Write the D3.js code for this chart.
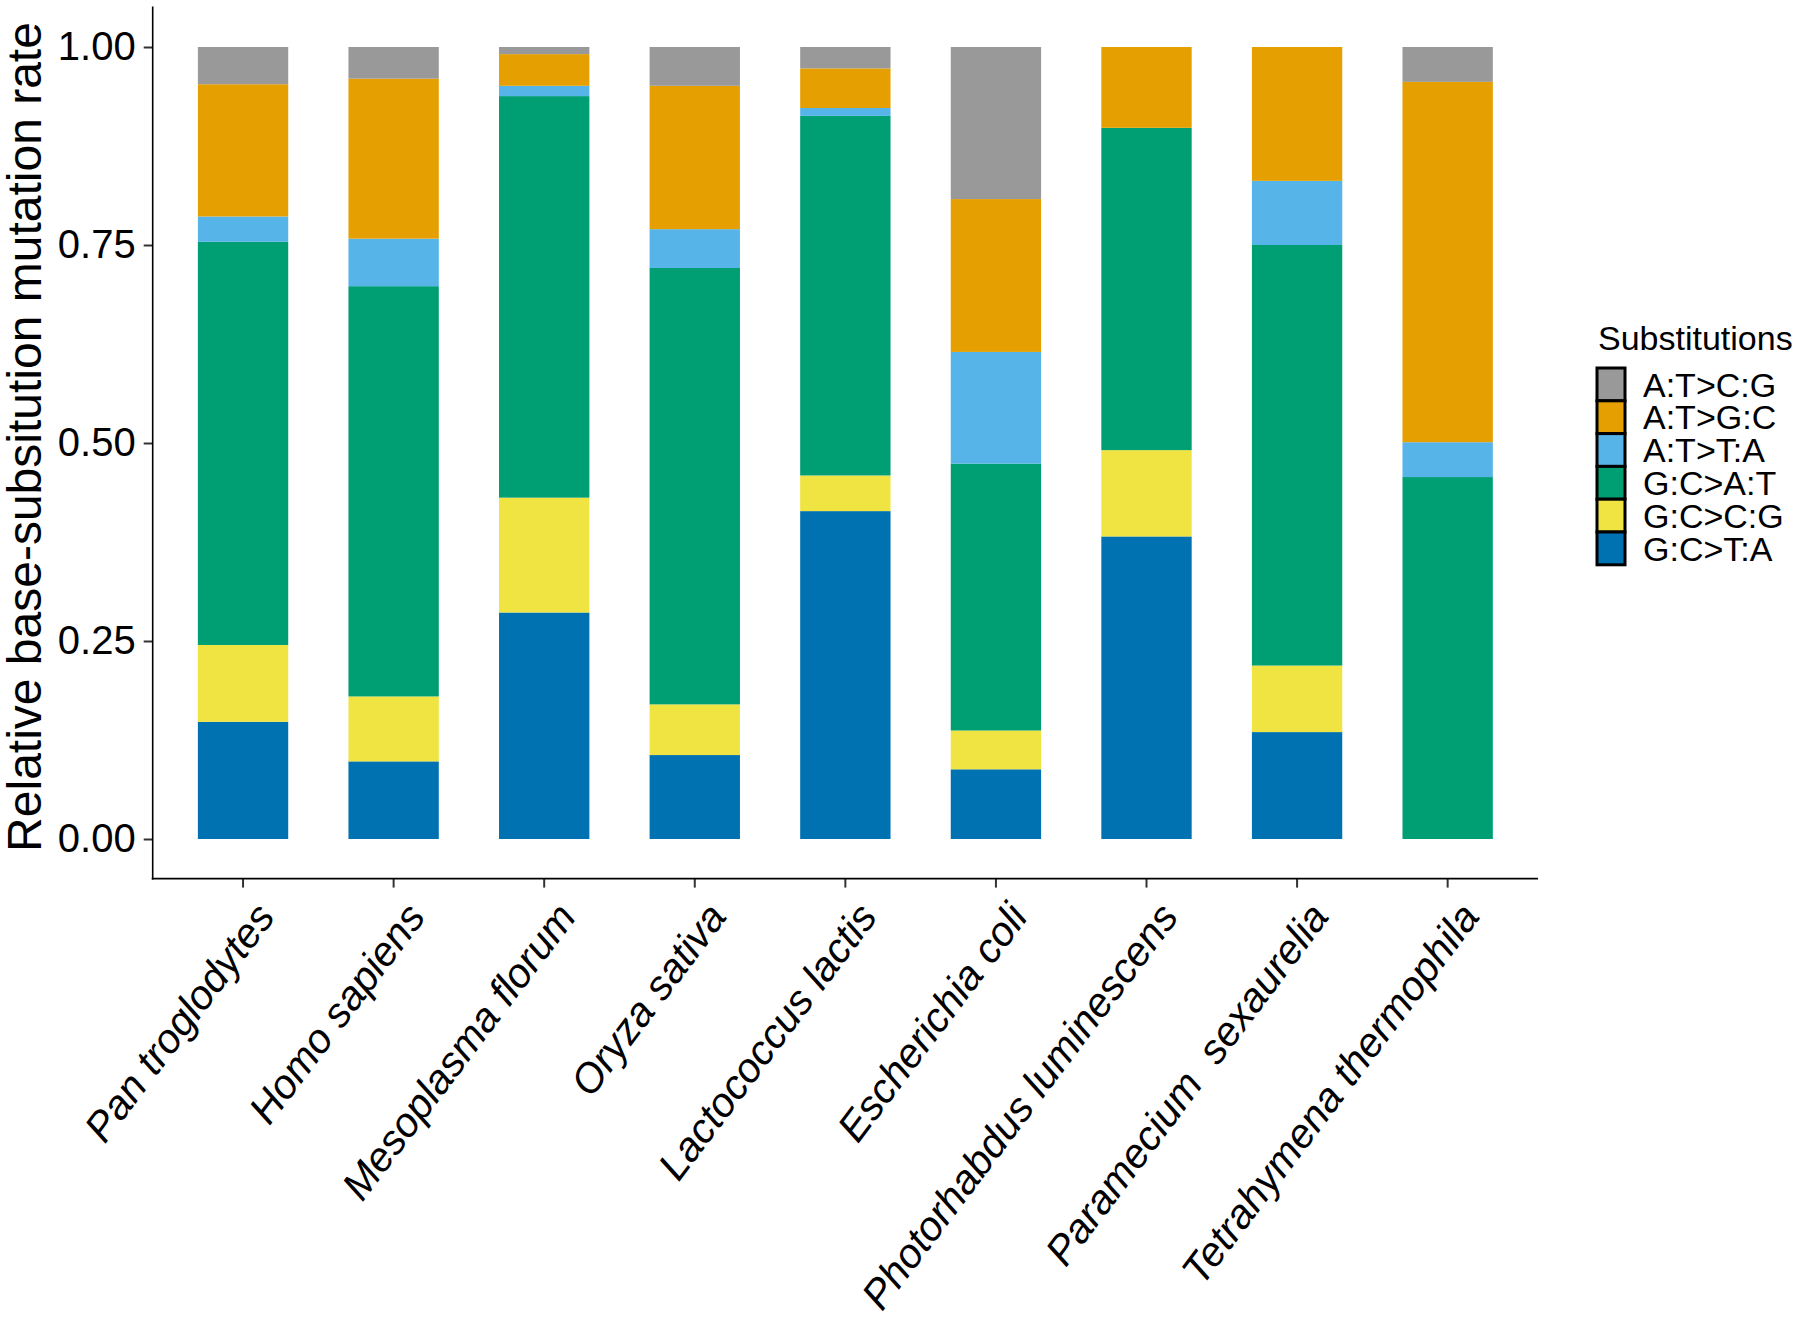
<!DOCTYPE html>
<html>
<head>
<meta charset="utf-8">
<script src="https://cdn.jsdelivr.net/npm/d3@7"></script>
<style>
  html, body { margin: 0; padding: 0; background: #fff; }
  svg { display: block; font-family: "Liberation Sans", Arial, sans-serif; }
</style>
</head>
<body>
<svg id="chart" width="1800" height="1324"></svg>
<script>
const species = ["Pan troglodytes", "Homo sapiens", "Mesoplasma florum", "Oryza sativa",
  "Lactococcus lactis", "Escherichia coli", "Photorhabdus luminescens",
  "Paramecium  sexaurelia", "Tetrahymena thermophila"];

// Substitution classes, stacking order bottom -> top
const substitutions = ["G:C>T:A", "G:C>C:G", "G:C>A:T", "A:T>T:A", "A:T>G:C", "A:T>C:G"];
const colors = ["#0072B2", "#F0E442", "#009E73", "#56B4E9", "#E69F00", "#999999"];

const GC_TA = [0.148, 0.098, 0.286, 0.106, 0.414, 0.088, 0.382, 0.135, 0.000];
const GC_CG = [0.097, 0.082, 0.145, 0.064, 0.045, 0.049, 0.109, 0.084, 0.000];
const GC_AT = [0.509, 0.518, 0.507, 0.551, 0.454, 0.337, 0.407, 0.531, 0.457];
const AT_TA = [0.032, 0.060, 0.013, 0.049, 0.010, 0.141, 0.000, 0.081, 0.044];
const AT_GC = [0.167, 0.202, 0.040, 0.181, 0.050, 0.193, 0.102, 0.169, 0.455];
const AT_CG = [0.047, 0.040, 0.009, 0.049, 0.027, 0.192, 0.000, 0.000, 0.044];

const yTicks = [0, 0.25, 0.5, 0.75, 1.0];
const yTickLabels = ["0.00", "0.25", "0.50", "0.75", "1.00"];
const yTitle = "Relative base-subsitution mutation rate";
const legendTitle = "Substitutions";

const seriesValues = [GC_TA, GC_CG, GC_AT, AT_TA, AT_GC, AT_CG];
const table = species.map((s, i) => {
  const row = { species: s };
  substitutions.forEach((k, j) => { row[k] = seriesValues[j][i]; });
  return row;
});

const svg = d3.select("#chart");
const panel = { left: 152.7, right: 1538, top: 7.4, bottom: 878.6 };

const x = d3.scaleBand().domain(species).range([panel.left, panel.right])
  .paddingInner(0.4).paddingOuter(0.3);
const y = d3.scaleLinear().domain([-0.05, 1.05]).range([panel.bottom, panel.top]);
const color = d3.scaleOrdinal().domain(substitutions).range(colors);

const stack = d3.stack().keys(substitutions);
const layers = stack(table);

svg.append("g").selectAll("g").data(layers).join("g")
  .attr("fill", d => color(d.key))
  .selectAll("rect").data(d => d).join("rect")
  .attr("x", d => x(d.data.species))
  .attr("width", x.bandwidth())
  .attr("y", d => y(d[1]))
  .attr("height", d => Math.max(0, y(d[0]) - y(d[1])));

// Y axis
const yAxis = d3.axisLeft(y).tickValues(yTicks)
  .tickFormat((d, i) => yTickLabels[i]).tickSize(9).tickPadding(8);
const gy = svg.append("g").attr("transform", `translate(${panel.left},0)`).call(yAxis);
gy.select(".domain").remove();
gy.selectAll(".tick line").attr("stroke", "#333").attr("stroke-width", 2);
gy.selectAll(".tick text").attr("font-size", 40).attr("fill", "#000")
  .attr("font-family", "Liberation Sans, Arial, sans-serif");

// X axis
const xAxis = d3.axisBottom(x).tickSize(9).tickFormat("");
const gx = svg.append("g").attr("transform", `translate(0,${panel.bottom})`).call(xAxis);
gx.select(".domain").remove();
gx.selectAll(".tick line").attr("stroke", "#333").attr("stroke-width", 2);

// Axis lines
svg.append("line").attr("x1", panel.left).attr("x2", panel.left)
  .attr("y1", panel.top - 1).attr("y2", panel.bottom + 1)
  .attr("stroke", "#000").attr("stroke-width", 1.6);
svg.append("line").attr("x1", panel.left - 1).attr("x2", panel.right)
  .attr("y1", panel.bottom).attr("y2", panel.bottom)
  .attr("stroke", "#000").attr("stroke-width", 1.6);

// X labels rotated
svg.append("g").selectAll("text").data(species).join("text")
  .attr("transform", d => `translate(${x(d) + x.bandwidth() / 2 + 10},${panel.bottom + 21}) rotate(-53)`)
  .attr("text-anchor", "end")
  .attr("dy", "0.71em")
  .attr("font-size", 41)
  .attr("font-style", "italic")
  .attr("fill", "#000")
  .style("white-space", "pre")
  .text(d => d);

// Y title
svg.append("text")
  .attr("transform", `translate(41,437) rotate(-90)`)
  .attr("text-anchor", "middle")
  .attr("font-size", 48)
  .attr("fill", "#000")
  .text(yTitle);

// Legend
const lg = svg.append("g");
lg.append("text").attr("x", 1598).attr("y", 350).attr("font-size", 34).attr("fill", "#000")
  .text(legendTitle);
const legendOrder = substitutions.slice().reverse();
const keyH = 32.8, keyW = 28, keyTop = 368, keyX = 1597;
lg.selectAll("rect").data(legendOrder).join("rect")
  .attr("x", keyX).attr("y", (d, i) => keyTop + i * keyH)
  .attr("width", keyW).attr("height", keyH)
  .attr("fill", d => color(d))
  .attr("stroke", "#000").attr("stroke-width", 3);
lg.selectAll("text.lab").data(legendOrder).join("text").attr("class", "lab")
  .attr("x", 1643).attr("y", (d, i) => keyTop + i * keyH + keyH / 2)
  .attr("dy", "0.36em")
  .attr("font-size", 34).attr("fill", "#000")
  .text(d => d);
</script>
</body>
</html>
